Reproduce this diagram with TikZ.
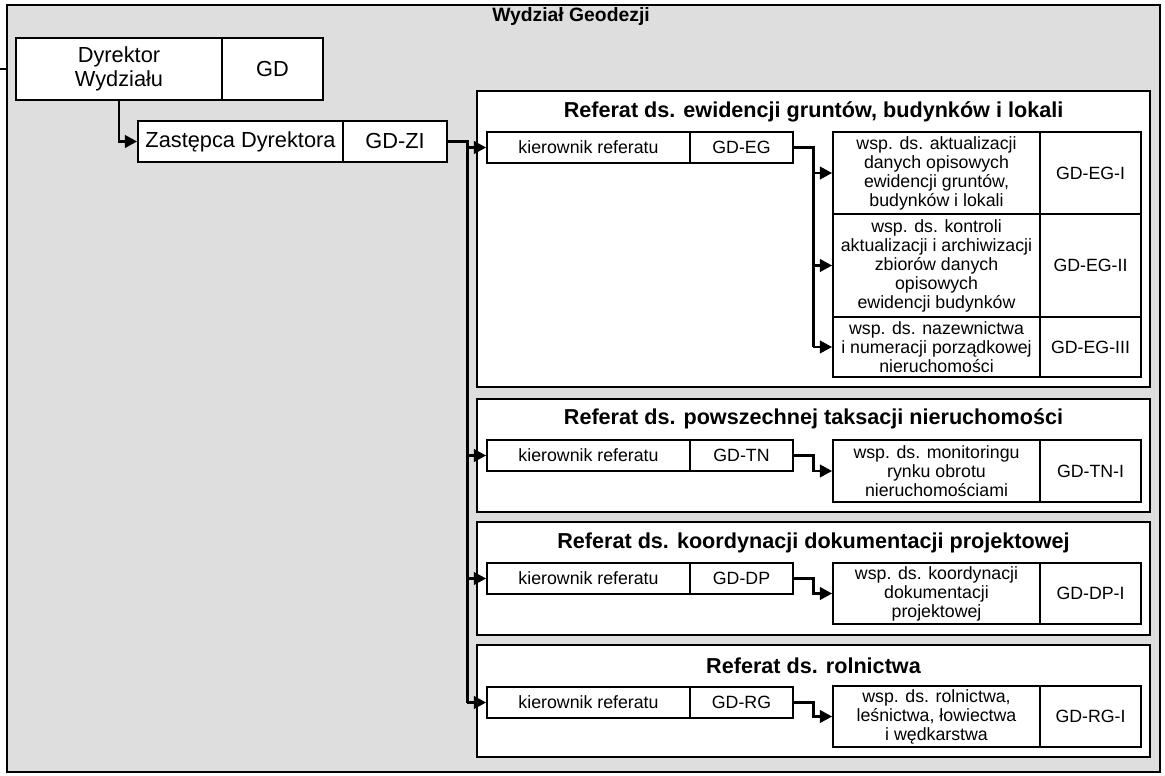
\documentclass[tikz,border=0pt]{standalone}
\usepackage{fontspec}
\setmainfont{Liberation Sans}
\usetikzlibrary{arrows.meta}

\begin{document}
\begin{tikzpicture}[x=0.02cm,y=-0.02cm,
  cell/.style={draw,fill=white,line width=0.95pt,inner sep=0pt,align=center,font=\fontsize{10.1}{10.8}\selectfont},
  bigcell/.style={cell,font=\fontsize{12.4}{13.5}\selectfont},
  kier/.style={cell,minimum height=0.62cm},
  unit/.style={draw,fill=white,line width=1.1pt,inner sep=0pt,minimum width=13.46cm},
  head/.style={font=\bfseries\fontsize{12.3}{14}\selectfont,inner sep=0pt},
  conn/.style={line width=1.7pt},
  arr/.style={conn,-{Triangle[length=7pt,width=7pt]}}]
\useasboundingbox (0,0) rectangle (1165,776);
\node[draw,fill=black!13,line width=1.1pt,inner sep=0pt,minimum width=23.06cm,minimum height=15.34cm] (frame) at (583.5,388.5) {};
\coordinate (stub) at (0,69);
\draw[conn] (stub) -- (stub -| frame.west);
\node[font=\bfseries\fontsize{11}{13}\selectfont] (title) at (571,17) {Wydział Geodezji};
% dyrekcja
\node[bigcell,minimum width=4.12cm,minimum height=1.24cm] (dyr) at (119,69) {Dyrektor\\Wydziału};
\node[bigcell,minimum width=2.02cm,minimum height=1.24cm] (dyrsym) at (272.5,69) {GD};
\node[bigcell,minimum width=4.10cm,minimum height=0.82cm] (zast) at (240.5,141.5) {Zastępca Dyrektora};
\node[bigcell,minimum width=2.08cm,minimum height=0.82cm] (zastsym) at (395,141.5) {GD-ZI};
% referaty
\node[unit,minimum height=5.92cm] (secEG) at (813.5,239) {};
\node[head] (tEG) at (813.5,112) {Referat ds. ewidencji gruntów, budynków i lokali};
\node[unit,minimum height=2.26cm] (secTN) at (813.5,455.5) {};
\node[head] (tTN) at (813.5,419) {Referat ds. powszechnej taksacji nieruchomości};
\node[unit,minimum height=2.26cm] (secDP) at (813.5,578.5) {};
\node[head] (tDP) at (813.5,543) {Referat ds. koordynacji dokumentacji projektowej};
\node[unit,minimum height=2.24cm] (secRG) at (813.5,701) {};
\node[head] (tRG) at (813.5,666) {Referat ds. rolnictwa};
% kierownicy
\node[kier,minimum width=4.06cm] (kierEG) at (588.5,147.5) {kierownik referatu};
\node[kier,minimum width=2.06cm] (symEG) at (741.5,147.5) {GD-EG};
\node[kier,minimum width=4.06cm] (kierTN) at (588.5,455.5) {kierownik referatu};
\node[kier,minimum width=2.06cm] (symTN) at (741.5,455.5) {GD-TN};
\node[kier,minimum width=4.06cm] (kierDP) at (588.5,578.5) {kierownik referatu};
\node[kier,minimum width=2.06cm] (symDP) at (741.5,578.5) {GD-DP};
\node[kier,minimum width=4.06cm] (kierRG) at (588.5,702.5) {kierownik referatu};
\node[kier,minimum width=2.06cm] (symRG) at (741.5,702.5) {GD-RG};
% stanowiska
\node[cell,minimum width=4.14cm,minimum height=1.64cm] (wspEGa) at (936.5,173) {wsp. ds. aktualizacji\\danych opisowych\\ewidencji gruntów,\\budynków i lokali};
\node[cell,minimum width=2.02cm,minimum height=1.64cm] (symEGa) at (1090.5,173) {GD-EG-I};
\node[cell,minimum width=4.14cm,minimum height=2.06cm] (wspEGb) at (936.5,265.5) {wsp. ds. kontroli\\aktualizacji i archiwizacji\\zbiorów danych\\opisowych\\ewidencji budynków};
\node[cell,minimum width=2.02cm,minimum height=2.06cm] (symEGb) at (1090.5,265.5) {GD-EG-II};
\node[cell,minimum width=4.14cm,minimum height=1.2cm] (wspEGc) at (936.5,347) {wsp. ds. nazewnictwa\\i numeracji porządkowej\\nieruchomości};
\node[cell,minimum width=2.02cm,minimum height=1.2cm] (symEGc) at (1090.5,347) {GD-EG-III};
\node[cell,minimum width=4.14cm,minimum height=1.24cm] (wspTN) at (936.5,471) {wsp. ds. monitoringu\\rynku obrotu\\nieruchomościami};
\node[cell,minimum width=2.02cm,minimum height=1.24cm] (symTNa) at (1090.5,471) {GD-TN-I};
\node[cell,minimum width=4.14cm,minimum height=1.22cm] (wspDP) at (936.5,593.5) {wsp. ds. koordynacji\\dokumentacji\\projektowej};
\node[cell,minimum width=2.02cm,minimum height=1.22cm] (symDPa) at (1090.5,593.5) {GD-DP-I};
\node[cell,minimum width=4.14cm,minimum height=1.22cm] (wspRG) at (936.5,716.5) {wsp. ds. rolnictwa,\\leśnictwa, łowiectwa\\i wędkarstwa};
\node[cell,minimum width=2.02cm,minimum height=1.22cm] (symRGa) at (1090.5,716.5) {GD-RG-I};
% polaczenia
\draw[arr] (dyr.south) |- (zast.west);
\coordinate (trunk) at (467,141.5);
\draw[conn] (zastsym.east) -- (trunk) -- (trunk |- kierRG.west);
\draw[arr] (trunk |- kierEG.west) -- (kierEG.west);
\draw[arr] (trunk |- kierTN.west) -- (kierTN.west);
\draw[arr] (trunk |- kierDP.west) -- (kierDP.west);
\draw[arr] (trunk |- kierRG.west) -- (kierRG.west);
\coordinate (busEG) at (813,147.5);
\draw[conn] (symEG.east) -- (busEG) -- (busEG |- wspEGc.west);
\draw[arr] (busEG |- wspEGa.west) -- (wspEGa.west);
\draw[arr] (busEG |- wspEGb.west) -- (wspEGb.west);
\draw[arr] (busEG |- wspEGc.west) -- (wspEGc.west);
\draw[arr] (symTN.east) -- ++(20,0) |- (wspTN.west);
\draw[arr] (symDP.east) -- ++(20,0) |- (wspDP.west);
\draw[arr] (symRG.east) -- ++(20,0) |- (wspRG.west);
\end{tikzpicture}
\end{document}
